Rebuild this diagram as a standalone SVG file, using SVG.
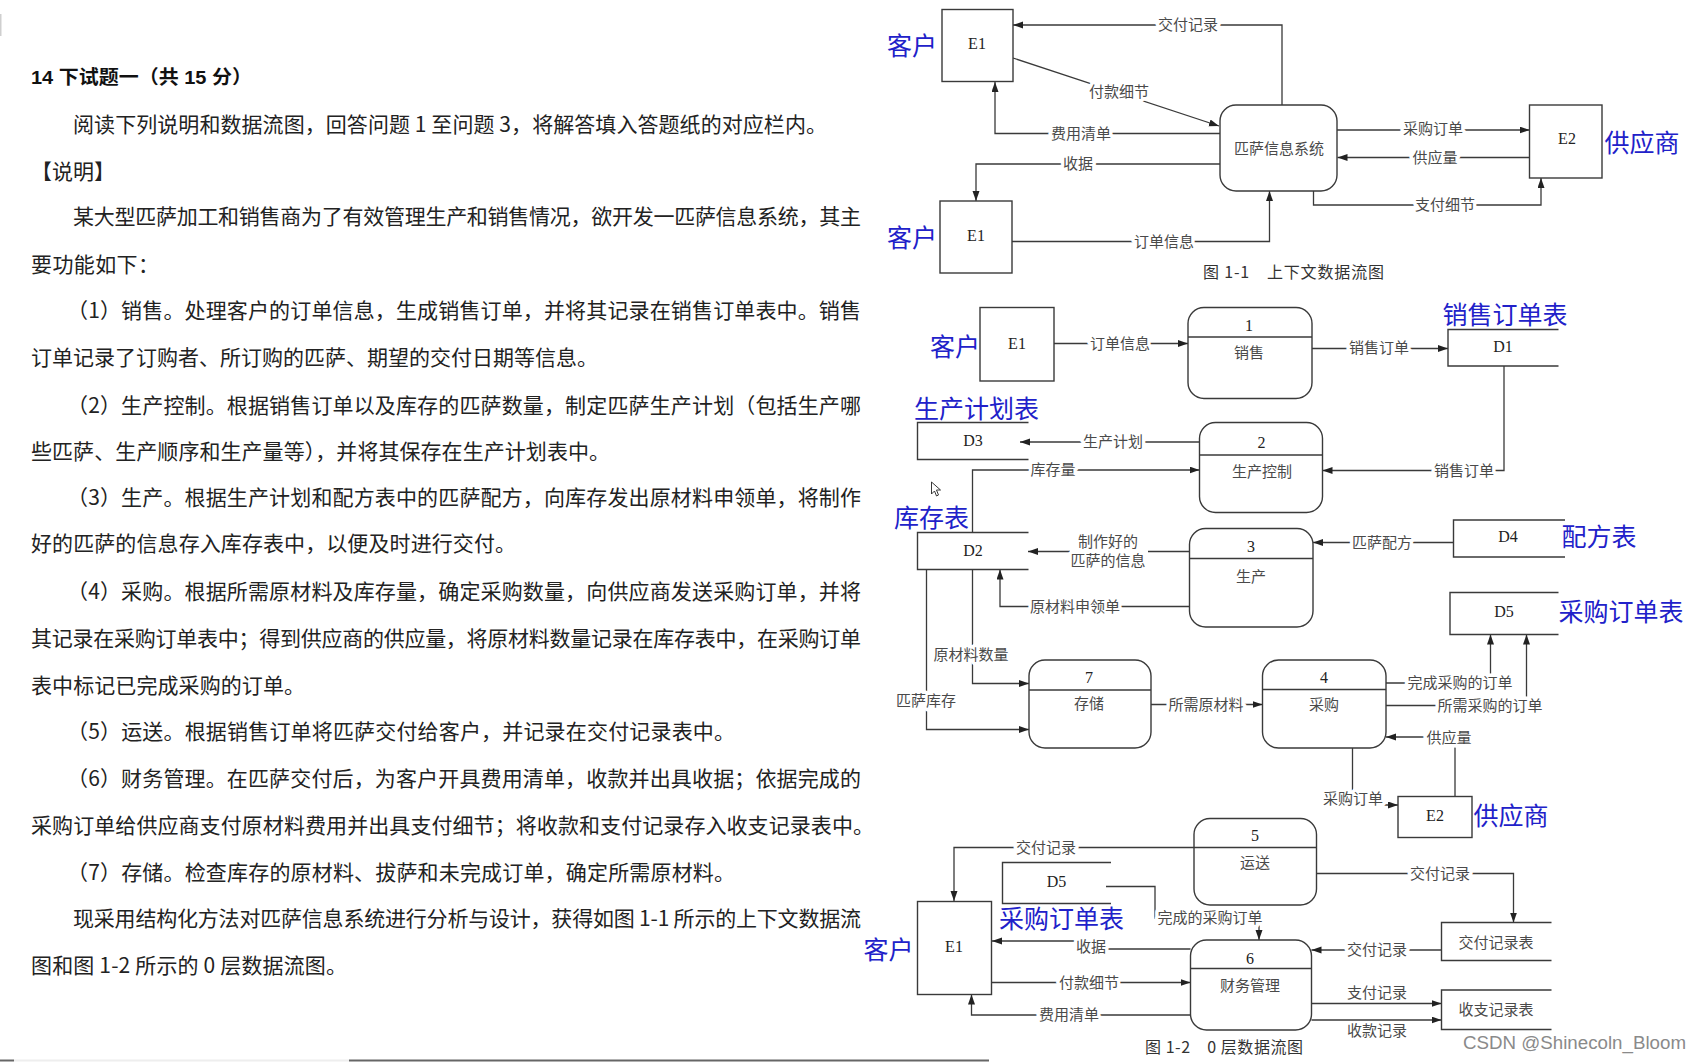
<svg xmlns="http://www.w3.org/2000/svg" width="1702" height="1062" viewBox="0 0 1702 1062">
<defs>
<style>
.ln{fill:none;stroke:#3a3a3a;stroke-width:1.3}
.box{fill:#fff;stroke:#3a3a3a;stroke-width:1.4}
.st{fill:none;stroke:#3a3a3a;stroke-width:1.4}
.lbl{font-family:"Noto Sans CJK SC",sans-serif;font-size:15px;fill:#4a4a4a;text-anchor:middle;dominant-baseline:central;stroke:#fff;stroke-width:7px;stroke-linejoin:round;paint-order:stroke;transform:translateY(-1.5px)}
.nl{font-family:"Noto Sans CJK SC",sans-serif;font-size:15px;fill:#4a4a4a;text-anchor:middle;dominant-baseline:central;transform:translateY(-1.5px)}
.id{font-family:"Liberation Serif",serif;font-size:16px;fill:#222;text-anchor:middle;dominant-baseline:central;transform:translateY(-1.5px)}
.blue{font-family:"Noto Sans CJK SC",sans-serif;font-size:25px;fill:#2121c9;text-anchor:middle;dominant-baseline:central;transform:translateY(-2px)}
.body{font-family:"Noto Sans CJK SC",sans-serif;font-size:21px;fill:#222;dominant-baseline:central;transform:translateY(-1px)}
.cap{font-family:"Noto Sans CJK SC",sans-serif;font-size:16px;fill:#333;dominant-baseline:central;transform:translateY(-1.5px)}
</style>
<marker id="ar" markerUnits="userSpaceOnUse" markerWidth="11" markerHeight="8" refX="10" refY="3.5" orient="auto">
<path d="M0,0 L10,3.5 L0,7 z" fill="#222"/>
</marker>
</defs>
<rect width="1702" height="1062" fill="#fff"/>

<!-- page artifacts -->
<rect x="0" y="14" width="1.5" height="22" fill="#cfcfcf"/>
<line x1="0" y1="1060.5" x2="14" y2="1060.5" stroke="#666" stroke-width="2"/>
<line x1="14" y1="1060.5" x2="349" y2="1060.5" stroke="#eee" stroke-width="2"/>
<line x1="349" y1="1060.5" x2="989" y2="1060.5" stroke="#666" stroke-width="2"/>

<!-- left text -->
<g id="text">
<text x="31" y="77.5" font-family="'Liberation Sans','Noto Sans CJK SC',sans-serif" font-size="19" font-weight="bold" fill="#111" dominant-baseline="central" textLength="221" lengthAdjust="spacingAndGlyphs">14 下试题一（共 15 分）</text>
<text class="body" x="73" y="124" textLength="754" lengthAdjust="spacing">阅读下列说明和数据流图，回答问题 1 至问题 3，将解答填入答题纸的对应栏内。</text>
<text class="body" x="31" y="171">【说明】</text>
<text class="body" x="73" y="216" textLength="788" lengthAdjust="spacing">某大型匹萨加工和销售商为了有效管理生产和销售情况，欲开发一匹萨信息系统，其主</text>
<text class="body" x="31" y="264" textLength="128" lengthAdjust="spacing">要功能如下：</text>
<text class="body" x="67" y="310" textLength="794" lengthAdjust="spacing">（1）销售。处理客户的订单信息，生成销售订单，并将其记录在销售订单表中。销售</text>
<text class="body" x="31" y="357" textLength="567" lengthAdjust="spacing">订单记录了订购者、所订购的匹萨、期望的交付日期等信息。</text>
<text class="body" x="67" y="405" textLength="794" lengthAdjust="spacing">（2）生产控制。根据销售订单以及库存的匹萨数量，制定匹萨生产计划（包括生产哪</text>
<text class="body" x="31" y="451" textLength="579" lengthAdjust="spacing">些匹萨、生产顺序和生产量等），并将其保存在生产计划表中。</text>
<text class="body" x="67" y="497" textLength="794" lengthAdjust="spacing">（3）生产。根据生产计划和配方表中的匹萨配方，向库存发出原材料申领单，将制作</text>
<text class="body" x="31" y="543" textLength="485" lengthAdjust="spacing">好的匹萨的信息存入库存表中，以便及时进行交付。</text>
<text class="body" x="67" y="591" textLength="794" lengthAdjust="spacing">（4）采购。根据所需原材料及库存量，确定采购数量，向供应商发送采购订单，并将</text>
<text class="body" x="31" y="638" textLength="830" lengthAdjust="spacing">其记录在采购订单表中；得到供应商的供应量，将原材料数量记录在库存表中，在采购订单</text>
<text class="body" x="31" y="685" textLength="274" lengthAdjust="spacing">表中标记已完成采购的订单。</text>
<text class="body" x="67" y="731" textLength="668" lengthAdjust="spacing">（5）运送。根据销售订单将匹萨交付给客户，并记录在交付记录表中。</text>
<text class="body" x="67" y="778" textLength="794" lengthAdjust="spacing">（6）财务管理。在匹萨交付后，为客户开具费用清单，收款并出具收据；依据完成的</text>
<text class="body" x="31" y="825" textLength="843" lengthAdjust="spacing">采购订单给供应商支付原材料费用并出具支付细节；将收款和支付记录存入收支记录表中。</text>
<text class="body" x="67" y="872" textLength="668" lengthAdjust="spacing">（7）存储。检查库存的原材料、拔萨和未完成订单，确定所需原材料。</text>
<text class="body" x="73" y="918" textLength="788" lengthAdjust="spacing">现采用结构化方法对匹萨信息系统进行分析与设计，获得如图 1-1 所示的上下文数据流</text>
<text class="body" x="31" y="965" textLength="316" lengthAdjust="spacing">图和图 1-2 所示的 0 层数据流图。</text>
</g>

<!-- ================= Fig 1-1 ================= -->
<g id="f1-connectors">
<path class="ln" d="M1282,105 V25 H1013" marker-end="url(#ar)"/>
<path class="ln" d="M1013,58 L1219,126" marker-end="url(#ar)"/>
<path class="ln" d="M1220,133.5 H995 V82" marker-end="url(#ar)"/>
<path class="ln" d="M1220,164 H976 V201" marker-end="url(#ar)"/>
<path class="ln" d="M1012,241.5 H1269.5 V191" marker-end="url(#ar)"/>
<path class="ln" d="M1337,130 H1529.5" marker-end="url(#ar)"/>
<path class="ln" d="M1529.5,157.5 H1337.5" marker-end="url(#ar)"/>
<path class="ln" d="M1313.5,191 V205 H1541 V178" marker-end="url(#ar)"/>
<text class="lbl" x="1188" y="25">交付记录</text>
<text class="lbl" x="1119" y="92">付款细节</text>
<text class="lbl" x="1081" y="133.5">费用清单</text>
<text class="lbl" x="1078" y="164">收据</text>
<text class="lbl" x="1164" y="241.5">订单信息</text>
<text class="lbl" x="1433" y="129">采购订单</text>
<text class="lbl" x="1435" y="157.5">供应量</text>
<text class="lbl" x="1445" y="205">支付细节</text>
</g>
<g id="f1-E1a">
<rect class="box" x="942" y="9.5" width="71" height="72"/>
<text class="id" x="977" y="45">E1</text>
<text class="blue" x="912" y="46" font-size="24">客户</text>
</g>
<g id="f1-E1b">
<rect class="box" x="940" y="201" width="72" height="72"/>
<text class="id" x="976" y="237">E1</text>
<text class="blue" x="912" y="238" font-size="24">客户</text>
</g>
<g id="f1-system">
<rect class="box" x="1220" y="105" width="117" height="86" rx="16"/>
<text class="nl" x="1279" y="149">匹萨信息系统</text>
</g>
<g id="f1-E2">
<rect class="box" x="1529.5" y="105" width="72.5" height="73"/>
<text class="id" x="1567" y="140">E2</text>
<text class="blue" x="1642" y="143">供应商</text>
</g>
<text class="cap" x="1203" y="272" textLength="181" lengthAdjust="spacing">图 1-1　上下文数据流图</text>

<!-- ================= Fig 1-2 ================= -->
<g id="f2-connectors">
<path class="ln" d="M1054,343.5 H1188" marker-end="url(#ar)"/>
<path class="ln" d="M1312,348.5 H1448" marker-end="url(#ar)"/>
<path class="ln" d="M1504,366 V470.5 H1322.5" marker-end="url(#ar)"/>
<path class="ln" d="M1199.5,442 H1020" marker-end="url(#ar)"/>
<path class="ln" d="M972.5,532.5 V470 H1199.5" marker-end="url(#ar)"/>
<path class="ln" d="M1189.5,551.5 H1148"/>
<path class="ln" d="M1070,551.5 H1028" marker-end="url(#ar)"/>
<path class="ln" d="M1189.5,606.5 H1000 V569.5" marker-end="url(#ar)"/>
<path class="ln" d="M1453.5,542.5 H1313" marker-end="url(#ar)"/>
<path class="ln" d="M972.5,569.5 V683.5 H1029" marker-end="url(#ar)"/>
<path class="ln" d="M926.5,569.5 V729.5 H1029" marker-end="url(#ar)"/>
<path class="ln" d="M1151,704.5 H1262.5" marker-end="url(#ar)"/>
<path class="ln" d="M1386,683 H1490.5 V634.5" marker-end="url(#ar)"/>
<path class="ln" d="M1386,705.5 H1526.5 V634.5" marker-end="url(#ar)"/>
<path class="ln" d="M1455,796.5 V737 H1386" marker-end="url(#ar)"/>
<path class="ln" d="M1352.5,748 V805 H1398" marker-end="url(#ar)"/>
<path class="ln" d="M1194,847.5 H954 V901" marker-end="url(#ar)"/>
<path class="ln" d="M1106,886.5 H1155 V918 H1259 V940" marker-end="url(#ar)"/>
<path class="ln" d="M1190.5,949 H1100 V941 H992" marker-end="url(#ar)"/>
<path class="ln" d="M992,982.5 H1190.5" marker-end="url(#ar)"/>
<path class="ln" d="M1190.5,1015 H971.5 V994.5" marker-end="url(#ar)"/>
<path class="ln" d="M1316.5,873.5 H1513.5 V922.5" marker-end="url(#ar)"/>
<path class="ln" d="M1441.5,950 H1311.5" marker-end="url(#ar)"/>
<path class="ln" d="M1311.5,1003.5 H1441.5" marker-end="url(#ar)"/>
<path class="ln" d="M1311.5,1020 H1441.5" marker-end="url(#ar)"/>
<text class="lbl" x="1120" y="343.5">订单信息</text>
<text class="lbl" x="1379" y="348">销售订单</text>
<text class="lbl" x="1464" y="470.5">销售订单</text>
<text class="lbl" x="1113" y="442">生产计划</text>
<text class="lbl" x="1053" y="470">库存量</text>
<text class="lbl" x="1108" y="542">制作好的</text>
<text class="lbl" x="1108" y="561">匹萨的信息</text>
<text class="lbl" x="1075" y="606.5">原材料申领单</text>
<text class="lbl" x="1382" y="542.5">匹萨配方</text>
<text class="lbl" x="971" y="655">原材料数量</text>
<text class="lbl" x="926" y="701">匹萨库存</text>
<text class="lbl" x="1206" y="704.5">所需原材料</text>
<text class="lbl" x="1460" y="683">完成采购的订单</text>
<text class="lbl" x="1490" y="706">所需采购的订单</text>
<text class="lbl" x="1449" y="738">供应量</text>
<text class="lbl" x="1353" y="799">采购订单</text>
<text class="lbl" x="1046" y="847.5">交付记录</text>
<text class="lbl" x="1210" y="918">完成的采购订单</text>
<text class="lbl" x="1091" y="946.5">收据</text>
<text class="lbl" x="1089" y="982.5">付款细节</text>
<text class="lbl" x="1069" y="1015">费用清单</text>
<text class="lbl" x="1440" y="873.5">交付记录</text>
<text class="lbl" x="1377" y="950">交付记录</text>
<text class="nl" x="1377" y="993">支付记录</text>
<text class="nl" x="1377" y="1031">收款记录</text>
</g>

<g id="f2-E1">
<rect class="box" x="980" y="307.5" width="74" height="73.5"/>
<text class="id" x="1017" y="345">E1</text>
<text class="blue" x="955" y="347" font-size="24">客户</text>
</g>
<g id="f2-P1">
<rect class="box" x="1188" y="307.5" width="124" height="91" rx="16"/>
<line class="st" x1="1188" y1="337" x2="1312" y2="337"/>
<text class="id" x="1249" y="327">1</text>
<text class="nl" x="1249" y="353">销售</text>
</g>
<g id="f2-D1">
<path class="st" d="M1558.5,329.5 H1448 V366 H1558.5"/>
<text class="id" x="1503" y="347.5">D1</text>
<text class="blue" x="1505" y="315">销售订单表</text>
</g>
<g id="f2-P2">
<rect class="box" x="1199.5" y="422.5" width="123" height="90" rx="16"/>
<line class="st" x1="1199.5" y1="455" x2="1322.5" y2="455"/>
<text class="id" x="1261.5" y="444">2</text>
<text class="nl" x="1262" y="472">生产控制</text>
</g>
<g id="f2-D3">
<path class="st" d="M1028.5,422.5 H917.5 V459.5 H1028.5"/>
<text class="id" x="973" y="441.5">D3</text>
<text class="blue" x="976.5" y="409">生产计划表</text>
</g>
<g id="f2-D2">
<path class="st" d="M1028.5,532.5 H917.5 V569.5 H1028.5"/>
<text class="id" x="973" y="551.5">D2</text>
<text class="blue" x="931.5" y="518">库存表</text>
</g>
<g id="f2-P3">
<rect class="box" x="1189.5" y="528.5" width="123.5" height="98.5" rx="16"/>
<line class="st" x1="1189.5" y1="558.5" x2="1313" y2="558.5"/>
<text class="id" x="1251" y="548">3</text>
<text class="nl" x="1251" y="577">生产</text>
</g>
<g id="f2-D4">
<path class="st" d="M1565,520 H1453.5 V557 H1565"/>
<text class="id" x="1508" y="538">D4</text>
<text class="blue" x="1599" y="537">配方表</text>
</g>
<g id="f2-D5a">
<path class="st" d="M1558.5,592.5 H1450 V634.5 H1558.5"/>
<text class="id" x="1504" y="613">D5</text>
<text class="blue" x="1621" y="612">采购订单表</text>
</g>
<g id="f2-P7">
<rect class="box" x="1029" y="660" width="122" height="88" rx="16"/>
<line class="st" x1="1029" y1="690" x2="1151" y2="690"/>
<text class="id" x="1089" y="679">7</text>
<text class="nl" x="1089" y="704">存储</text>
</g>
<g id="f2-P4">
<rect class="box" x="1262.5" y="660" width="123.5" height="88" rx="16"/>
<line class="st" x1="1262.5" y1="689.5" x2="1386" y2="689.5"/>
<text class="id" x="1324" y="679">4</text>
<text class="nl" x="1324" y="705">采购</text>
</g>
<g id="f2-E2">
<rect class="box" x="1398" y="796.5" width="74" height="41"/>
<text class="id" x="1435" y="817">E2</text>
<text class="blue" x="1511" y="816">供应商</text>
</g>
<g id="f2-P5">
<rect class="box" x="1194" y="818.5" width="122.5" height="86.5" rx="16"/>
<line class="st" x1="1194" y1="847.5" x2="1316.5" y2="847.5"/>
<text class="id" x="1255" y="837">5</text>
<text class="nl" x="1255" y="863">运送</text>
</g>
<g id="f2-D5b">
<path class="st" d="M1111,862.5 H1002.5 V903.5 H1111"/>
<text class="id" x="1056.5" y="882.5">D5</text>
<text class="blue" x="1061.5" y="919">采购订单表</text>
</g>
<g id="f2-E1b">
<rect class="box" x="917.5" y="901.5" width="74" height="93"/>
<text class="id" x="954" y="948">E1</text>
<text class="blue" x="888.5" y="950" font-size="24">客户</text>
</g>
<g id="f2-P6">
<rect class="box" x="1190.5" y="940" width="121" height="90" rx="16"/>
<line class="st" x1="1190.5" y1="968.5" x2="1311.5" y2="968.5"/>
<text class="id" x="1250" y="960">6</text>
<text class="nl" x="1250" y="986">财务管理</text>
</g>
<g id="f2-S-deliver">
<path class="st" d="M1551.5,922.5 H1441.5 V960.5 H1551.5"/>
<text class="nl" x="1496" y="942.5">交付记录表</text>
</g>
<g id="f2-S-finance">
<path class="st" d="M1551.5,990 H1441.5 V1029.5 H1551.5"/>
<text class="nl" x="1496" y="1010">收支记录表</text>
</g>
<text class="cap" x="1145" y="1047" textLength="158" lengthAdjust="spacing">图 1-2　0 层数据流图</text>

<!-- cursor -->
<path d="M931.5,482 V494 L934.5,491 L936.5,496 L938.5,495 L936.5,490 L940.5,490 Z" fill="#fff" stroke="#222" stroke-width="0.9"/>

<text x="1463" y="1043" font-family="'Liberation Sans',sans-serif" font-size="18" fill="#8a8a8a" dominant-baseline="central" textLength="223" lengthAdjust="spacingAndGlyphs">CSDN @Shinecoln_Bloom</text>
</svg>
